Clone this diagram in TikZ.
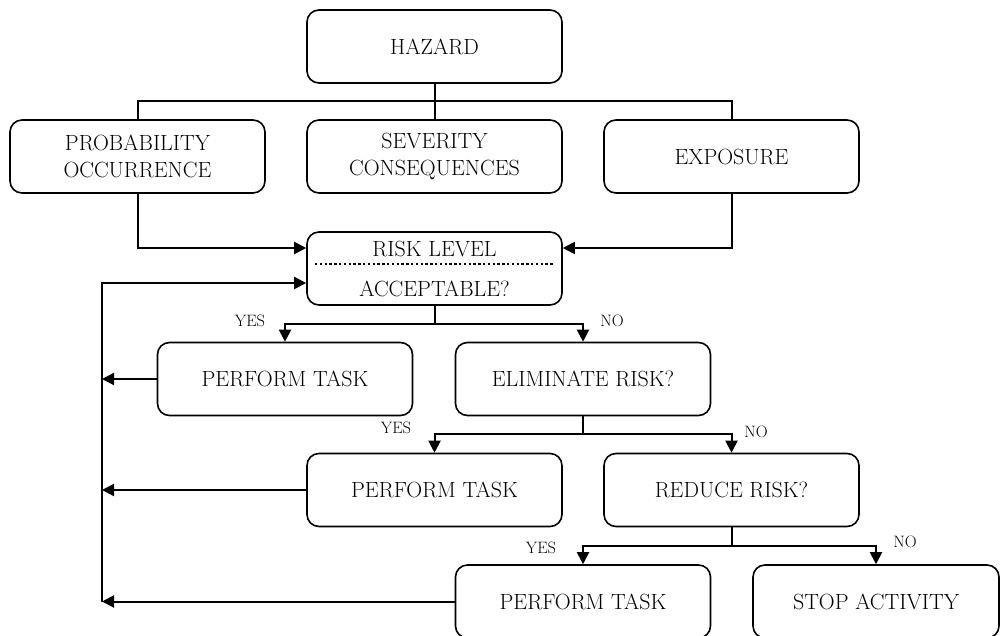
\documentclass[tikz,border=0pt]{standalone}
\usetikzlibrary{arrows.meta}
\begin{document}
\begin{tikzpicture}[x=1pt,y=-1pt,
  boxfont/.style={font=\fontsize{22}{26.5}\selectfont},
  box/.style={draw, line width=1.6pt, rounded corners=12pt, minimum height=73pt,
    minimum width=255pt, inner sep=0pt, align=center, boxfont},
  conn/.style={line width=2pt},
  arr/.style={conn, -{Triangle[length=12pt,width=12pt]}},
  lbl/.style={font=\fontsize{16.5}{19}\selectfont, inner sep=0pt}]
\useasboundingbox (0,0) rectangle (1000,636);

% boxes
\node[box] (hazard) at (434.5,46.5) {HAZARD};
\node[box] (prob)   at (137.5,156.5) {PROBABILITY\\OCCURRENCE};
\node[box] (sev)    at (434.5,156.5) {SEVERITY\\CONSEQUENCES};
\node[box] (expo)   at (731.5,156.5) {EXPOSURE};
\node[box] (risk)   at (434.5,268.5) {};
\node[boxfont] (risktop) at (434.5,249) {RISK LEVEL};
\node[boxfont] (riskbot) at (434.5,289) {ACCEPTABLE?};
\draw[line width=2.8pt, dash pattern=on 2.4pt off 2.4pt] (315,264) coordinate (dl) -- (553,264) coordinate (dr);
\node[box] (pt1)    at (285,379) {PERFORM TASK};
\node[box] (elim)   at (583,379) {ELIMINATE RISK?};
\node[box] (pt2)    at (434.5,490) {PERFORM TASK};
\node[box] (reduce) at (731.5,490) {REDUCE RISK?};
\node[box] (pt3)    at (583,601.5) {PERFORM TASK};
\node[box, minimum width=246pt] (stop) at (876,601.5) {STOP ACTIVITY};

% hazard to its three factors
\coordinate (bar) at (434.5,101);
\draw[conn] (hazard.south) -- (sev.north);
\draw[conn] (prob.north) |- (bar) -| (expo.north);

% factors into the risk level
\draw[arr] (prob.south) |- ([yshift=20.5pt]risk.west);
\draw[arr] (expo.south) |- ([yshift=20.5pt]risk.east);

% decisions
\coordinate (s1) at (434.5,324);
\draw[conn] (risk.south) -- (s1);
\draw[arr] (s1) -| (pt1.north);
\draw[arr] (s1) -| (elim.north);
\node[lbl] (yes1) at (250,321) {YES};
\node[lbl] (no1)  at (612,321) {NO};

\coordinate (s2) at (583,434);
\draw[conn] (elim.south) -- (s2);
\draw[arr] (s2) -| (pt2.north);
\draw[arr] (s2) -| (reduce.north);
\node[lbl] (yes2) at (396,428) {YES};
\node[lbl] (no2)  at (756,432) {NO};

\coordinate (s3) at (731.5,546);
\draw[conn] (reduce.south) -- (s3);
\draw[arr] (s3) -| (pt3.north);
\draw[arr] (s3) -| (stop.north);
\node[lbl] (yes3) at (541,548) {YES};
\node[lbl] (no3)  at (905,542) {NO};

% feedback to the risk level
\coordinate (fb) at (102,601.5);
\draw[arr] (fb) |- ([yshift=-14.5pt]risk.west);
\draw[arr] (pt1.west) -- (pt1.west -| fb);
\draw[arr] (pt2.west) -- (pt2.west -| fb);
\draw[arr] (pt3.west) -- (fb);
\end{tikzpicture}
\end{document}
